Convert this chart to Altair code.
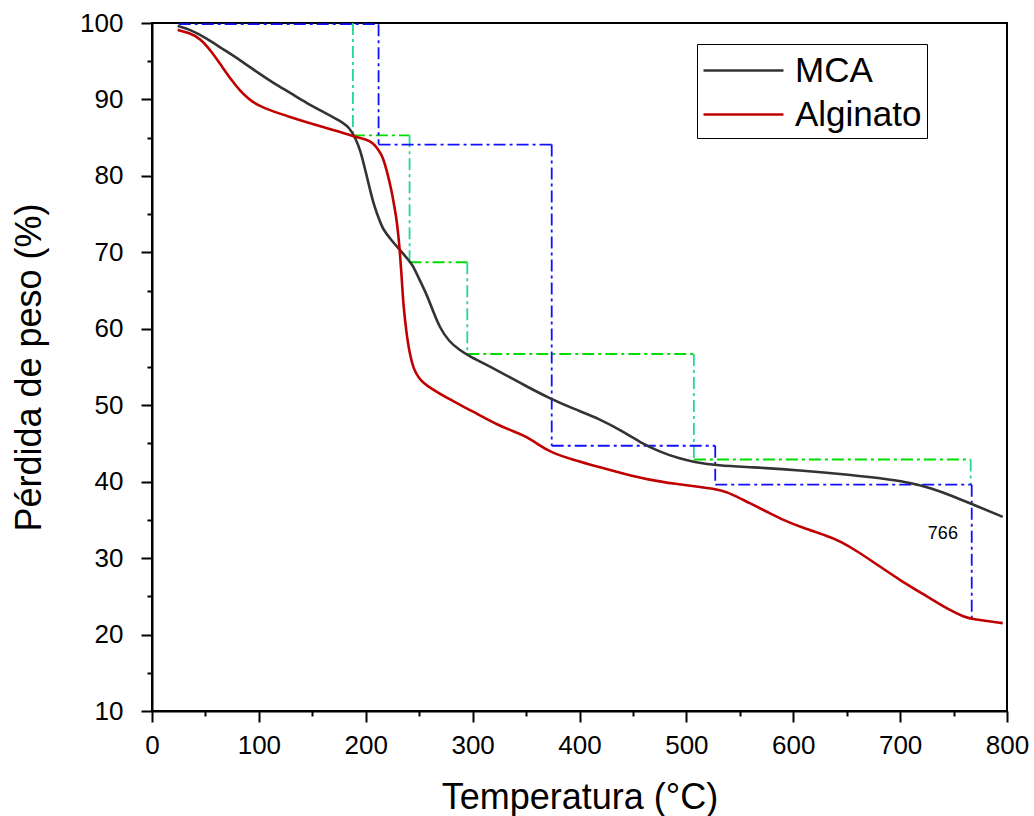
import altair as alt
import pandas as pd

# ---- data ----
mca_t = [24, 35, 51, 65, 82, 100, 113, 130, 145, 160, 176, 185, 190, 195, 200, 204, 207, 212, 216, 224,
         232, 240, 244, 250, 257, 263, 269, 278, 288, 297, 310, 325, 350, 372, 395, 419, 440, 456, 475,
         494, 506, 530, 560, 606, 653, 690, 712, 730, 746, 770, 796]
mca_w = [99.6, 99.2, 98.0, 96.7, 95.2, 93.4, 92.2, 90.8, 89.5, 88.4, 87.2, 86.3, 85.0, 83.4, 80.5, 78.2,
         76.5, 74.5, 73.0, 71.6, 70.3, 69.0, 68.3, 66.5, 64.5, 62.3, 60.2, 58.3, 57.2, 56.4, 55.5, 54.4,
         52.5, 50.9, 49.5, 48.2, 46.6, 45.2, 43.9, 43.0, 42.6, 42.1, 41.9, 41.5, 40.9, 40.3, 39.8, 39.1,
         38.3, 36.9, 35.4]

alg_t = [24, 35, 45, 55, 66, 75, 82, 90, 98, 110, 129, 145, 160, 175, 188, 200, 207, 212, 216, 220, 224,
         227, 229, 231, 232, 234, 235, 238, 241, 245, 250, 255, 260, 275, 300, 325, 340, 350, 360, 372,
         395, 419, 440, 466, 490, 513, 534, 545, 559, 575, 590, 610, 630, 644, 660, 680, 700, 725, 746,
         760, 768, 796]
alg_w = [99.1, 98.7, 98.0, 96.4, 94.2, 92.4, 91.2, 90.1, 89.3, 88.6, 87.7, 87.0, 86.4, 85.8, 85.2, 84.8,
         84.3, 83.4, 82.5, 80.5, 78.2, 75.8, 74.2, 71.5, 69.9, 66.0, 63.4, 59.5, 56.8, 54.6, 53.5, 52.8,
         52.3, 51.0, 49.2, 47.3, 46.5, 45.9, 45.0, 43.9, 42.8, 41.9, 41.1, 40.2, 39.7, 39.3, 38.9, 38.2,
         37.2, 36.1, 35.0, 33.9, 33.0, 32.2, 30.9, 29.0, 27.1, 25.0, 23.2, 22.3, 22.0, 21.5]

# step (dash-dot) guides
blue_x = [25, 212, 374, 527, 767]
blue_y = [99.85, 84.1, 44.7, 39.6, 22.0]
green_x = [188, 241, 295, 507, 766]
green_y_top = 100.0
green_y = [85.3, 68.7, 56.7, 42.9, 39.6]

label_x = [740]
label_y = [33.1]
label_text = ["766"]

series_names = ["MCA", "Alginato"]
series_colors = ["#333333", "#C00000"]

# ---- tables ----
curves = pd.concat([
    pd.DataFrame({"t": mca_t, "w": mca_w, "s": "MCA"}),
    pd.DataFrame({"t": alg_t, "w": alg_w, "s": "Alginato"}),
])

blue_h = pd.DataFrame({"x1": blue_x[:-1], "x2": blue_x[1:], "y": blue_y[:-1]})
blue_v = pd.DataFrame({"x": blue_x[1:], "y1": blue_y[:-1], "y2": blue_y[1:]})
green_h = pd.DataFrame({"x1": green_x[:-1], "x2": green_x[1:], "y": green_y[:-1]})
green_v = pd.DataFrame({"x": green_x, "y1": [green_y_top] + green_y[:-1], "y2": green_y})
labels = pd.DataFrame({"x": label_x, "y": label_y, "txt": label_text})

FONT = "Liberation Sans"

xscale = alt.Scale(domain=[0, 800], nice=False, zero=False)
yscale = alt.Scale(domain=[10, 100], nice=False, zero=False)

xaxis = alt.Axis(
    title="Temperatura (°C)",
    values=list(range(0, 801, 50)),
    labelExpr="datum.value % 100 === 0 ? datum.label : ''",
    tickSize={"condition": {"test": "datum.value % 100 === 0", "value": 11}, "value": 5},
    labelFlush=False, labelOverlap=False, grid=False,
    labelPadding=10, titlePadding=22,
)
yaxis = alt.Axis(
    title="Pérdida de peso (%)",
    values=list(range(10, 101, 5)),
    labelExpr="datum.value % 10 === 0 ? datum.label : ''",
    tickSize={"condition": {"test": "datum.value % 10 === 0", "value": 11}, "value": 5},
    labelFlush=False, labelOverlap=False, grid=False,
    labelPadding=18, titlePadding=31,
)

dash = [12, 4, 3, 4]

lines = alt.Chart(curves).mark_line(strokeWidth=2.6, interpolate="basis").encode(
    x=alt.X("t:Q", scale=xscale, axis=xaxis),
    y=alt.Y("w:Q", scale=yscale, axis=yaxis),
    color=alt.Color("s:N", scale=alt.Scale(domain=series_names, range=series_colors),
                    legend=alt.Legend(
                        title=None, orient="none", legendX=545, legendY=21,
                        symbolType="M-1,0L3,0", symbolSize=1600, symbolStrokeWidth=2.6,
                        labelFontSize=35, labelFont=FONT, labelColor="black",
                        strokeColor="black", fillColor="white", padding=5,
                        rowPadding=4, labelOffset=50, symbolOffset=0,
                    )),
    detail="s:N",
    order=alt.Order("t:Q"),
)

def hrule(df, color):
    return alt.Chart(df).mark_rule(color=color, strokeWidth=1.8, strokeDash=dash).encode(
        x=alt.X("x1:Q", scale=xscale, axis=xaxis), x2="x2:Q",
        y=alt.Y("y:Q", scale=yscale, axis=yaxis),
    )

def vrule(df, color):
    return alt.Chart(df).mark_rule(color=color, strokeWidth=1.8, strokeDash=dash).encode(
        x=alt.X("x:Q", scale=xscale, axis=xaxis),
        y=alt.Y("y1:Q", scale=yscale, axis=yaxis), y2="y2:Q",
    )

text = alt.Chart(labels).mark_text(font=FONT, fontSize=18, color="black").encode(
    x=alt.X("x:Q", scale=xscale, axis=xaxis),
    y=alt.Y("y:Q", scale=yscale, axis=yaxis),
    text="txt:N",
)

chart = alt.layer(
    hrule(green_h, "#00DD00"), vrule(green_v, "#22D990"),
    hrule(blue_h, "#1010FF"), vrule(blue_v, "#1010FF"),
    lines, text,
).properties(
    width=855, height=688,
    autosize=alt.AutoSizeParams(type="none"),
    padding={"left": 152, "top": 23, "right": 27, "bottom": 105},
    background="white",
).configure_view(
    stroke="black", strokeWidth=2,
).configure_axis(
    domainColor="black", domainWidth=2, tickColor="black", tickWidth=2,
    labelFont=FONT, labelFontSize=26, labelColor="black",
    titleFont=FONT, titleFontSize=36, titleColor="black", titleFontWeight="normal",
)

chart.save("out.html", embed_options={"renderer": "svg", "actions": False})
